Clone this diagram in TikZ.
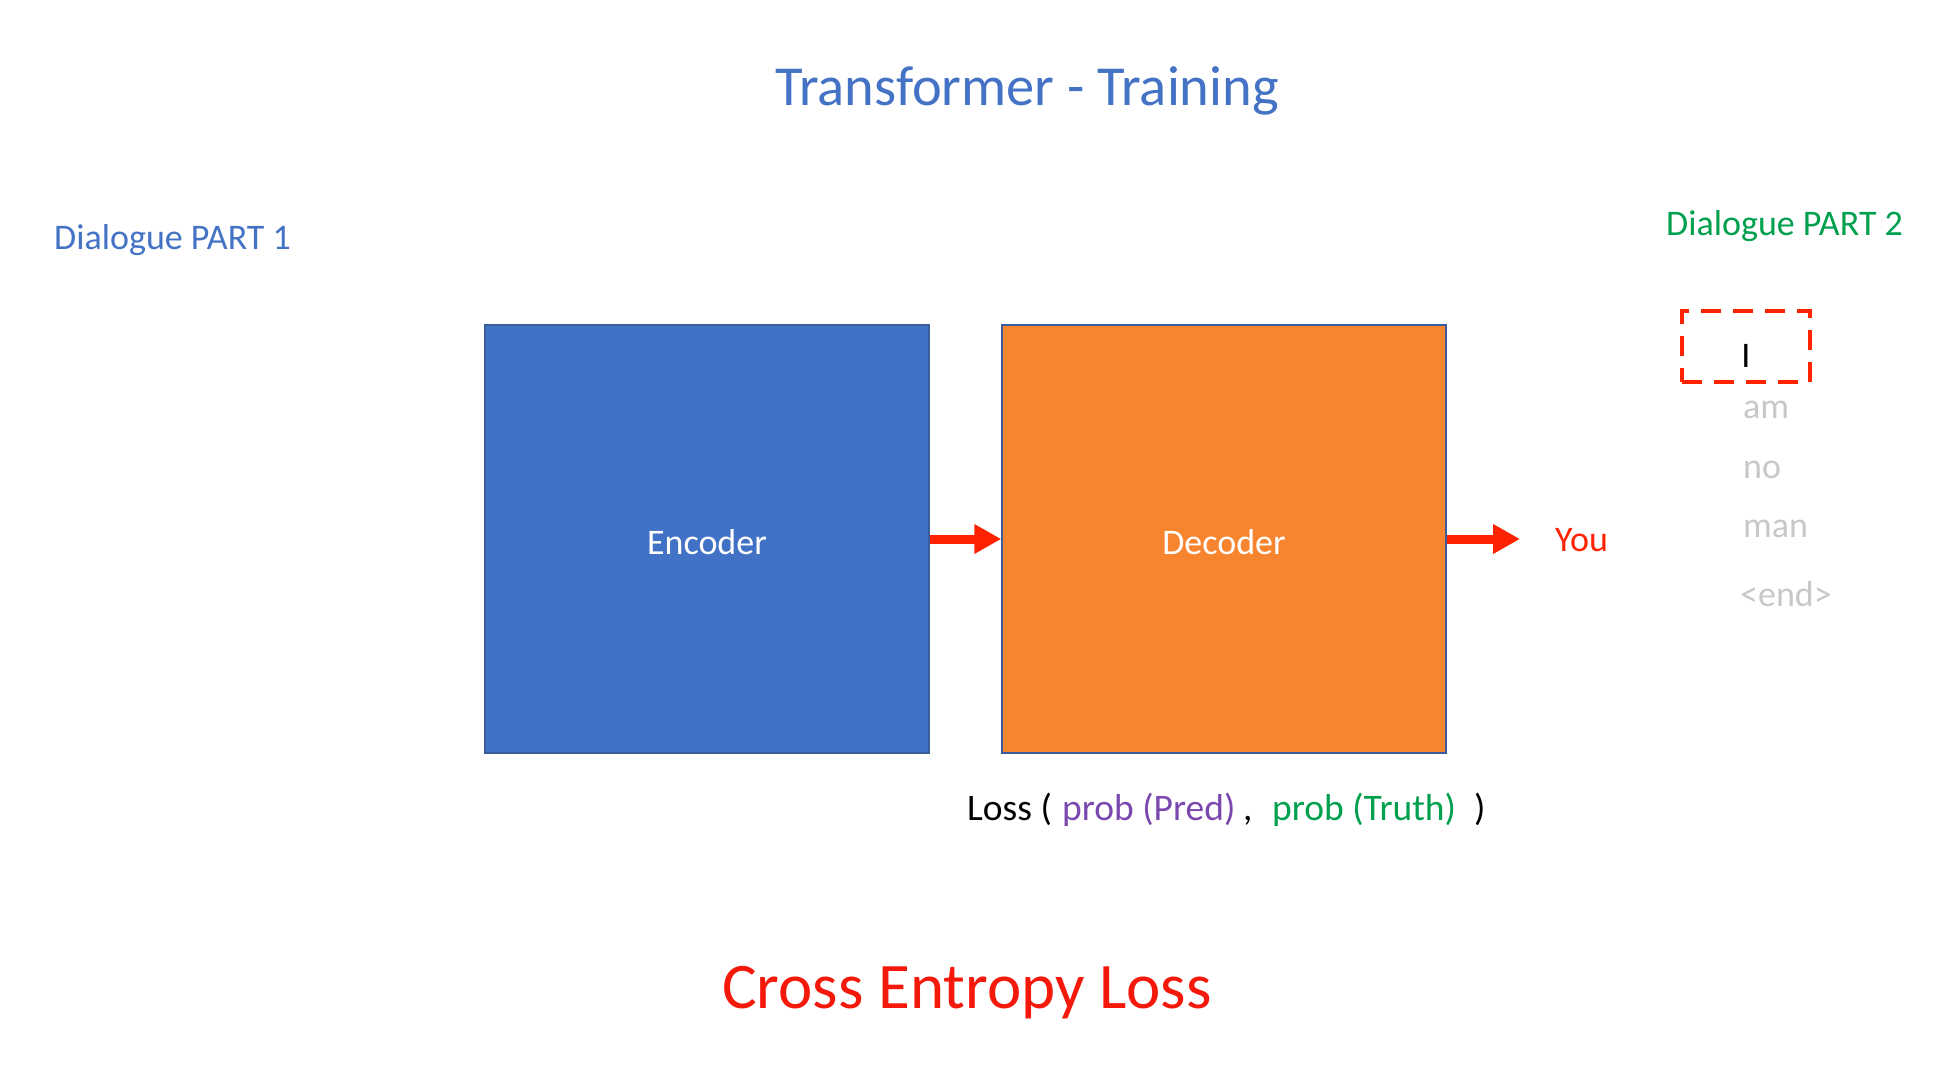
\documentclass[tikz,border=0pt]{standalone}
\usepackage{fontspec}
\setmainfont{Carlito}
\usetikzlibrary{arrows.meta}
\definecolor{titleblue}{HTML}{4472C4}
\definecolor{encblue}{HTML}{4172C6}
\definecolor{edgeblue}{HTML}{3A5E9C}
\definecolor{decorange}{HTML}{F7842E}
\definecolor{arrowred}{HTML}{FF2200}
\definecolor{lossred}{HTML}{F5190C}
\definecolor{partgreen}{HTML}{00A04E}
\definecolor{predpurple}{HTML}{7A48AE}
\definecolor{wordgray}{HTML}{C8C8C8}
\begin{document}
\begin{tikzpicture}[x=1pt,y=-1pt,
  txt/.style={inner sep=0pt, font=\fontsize{36}{40}\selectfont},
  losstxt/.style={inner sep=0pt, anchor=base west, font=\fontsize{37.5}{42}\selectfont},
  block/.style={draw=edgeblue, line width=1.5pt, minimum width=444pt,
    minimum height=428pt, inner sep=0pt, text=white,
    text height=31pt, text depth=0pt,
    font=\fontsize{36}{40}\selectfont},
  flow/.style={draw=arrowred, line width=9pt,
    -{Triangle[length=27pt,width=28pt]}},
  word/.style={txt, text=wordgray, anchor=base west}
]
\useasboundingbox[fill=white] (0,0) rectangle (1935,1084);

% headings
\node[txt, text=titleblue, font=\fontsize{56.5}{60}\selectfont, anchor=base]
  (title) at (1027,105) {Transformer - Training};
\node[txt, text=titleblue, anchor=base west] (part1) at (54,249) {Dialogue PART 1};
\node[txt, text=partgreen, anchor=base west] (part2) at (1666,235) {Dialogue PART 2};

% encoder / decoder blocks
\node[block, fill=encblue] (enc) at (707,539) {Encoder};
\node[block, fill=decorange] (dec) at (1224,539) {Decoder};

% data flow
\coordinate (out) at (1520,539);
\draw[flow] (enc.east) -- (dec.west);
\draw[flow] (dec.east) -- (out);
\node[txt, text=arrowred, anchor=base west] (you) at (1555,551) {You};

% target sentence, current token framed
\node[draw=arrowred, line width=4pt, dash pattern=on 20pt off 12pt,
  minimum width=128pt, minimum height=71pt, inner sep=0pt] (cur) at (1746,346.5) {};
\node[txt, anchor=base] (wI) at (1746,367) {I};
\node[word] (w2) at (1743,418) {am};
\node[word] (w3) at (1743,478) {no};
\node[word] (w4) at (1743,537) {man};
\node[word] (w5) at (1740,606) {<end>};

% loss
\node[losstxt] (lossA) at (967,820) {Loss (};
\node[losstxt, text=predpurple] (lossB) at (1062,820) {prob (Pred)};
\node[losstxt] (lossC) at (1243,820) {,};
\node[losstxt, text=partgreen] (lossD) at (1272,820) {prob (Truth)};
\node[losstxt] (lossE) at (1474,820) {)};
\node[txt, text=lossred, font=\fontsize{65}{70}\selectfont, anchor=base]
  (ce) at (967,1008) {Cross Entropy Loss};
\end{tikzpicture}
\end{document}
